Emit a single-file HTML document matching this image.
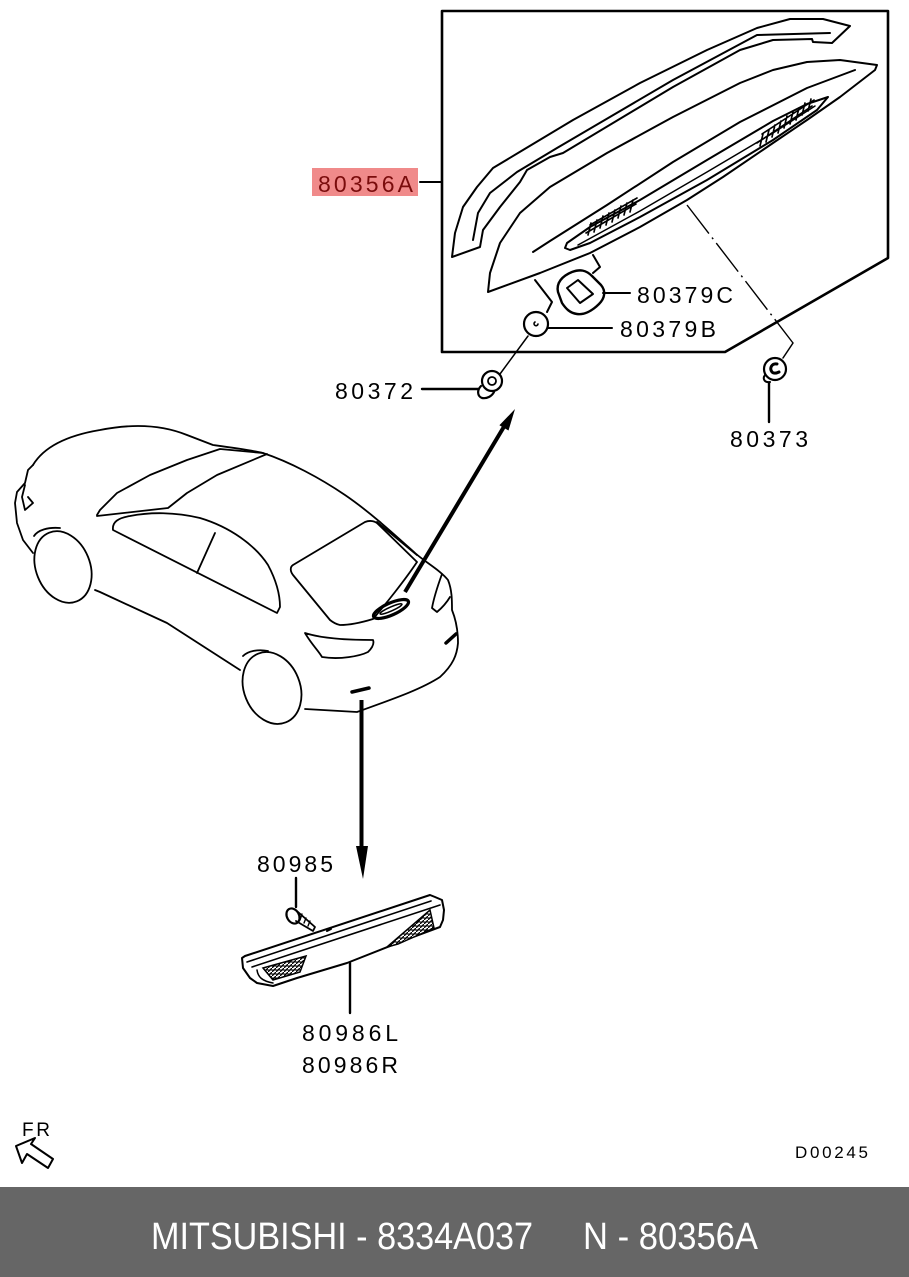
<!DOCTYPE html>
<html><head><meta charset="utf-8"><style>html,body{margin:0;padding:0;background:#fff}svg{display:block}</style></head>
<body>
<svg width="909" height="1277" viewBox="0 0 909 1277" xmlns="http://www.w3.org/2000/svg">
<defs>
<pattern id="h" width="4" height="4" patternUnits="userSpaceOnUse">
<rect width="4" height="4" fill="#fff"/>
<path d="M0,4 L4,0" stroke="#000" stroke-width="1.3"/>
<path d="M0,2 H4" stroke="#000" stroke-width="1"/>
</pattern>
</defs>
<rect width="909" height="1277" fill="#fff"/>

<g fill="none" stroke="#000" stroke-width="2" stroke-linejoin="round" stroke-linecap="round">
<!-- box -->
<path d="M442,11 H888 V258 L725,352 H442 Z" stroke-width="2.6"/>
<path d="M420,182 H442"/>

<!-- part 1 upper piece -->
<path d="M452,257 L455,233 L463,207 L477,187 L493,168 L523,150 L573,120 L640,83 L707,50 L757,28 L790,19 L823,19 L850,26 L832,43 L813,42 L812,39 L773,40 L740,50 L673,87 L563,153 L550,157 L527,170 L520,182 L500,207 L483,230 L480,247 Z"/>
<path d="M473,240 L478,213 L490,193 L517,172 L557,148 L673,80 L757,35 L830,33"/>

<!-- part 2 lower spoiler -->
<path d="M488,292 L490,273 L500,243 L520,213 L550,187 L607,153 L673,117 L740,83 L773,70 L807,62 L840,60 L877,65 L875,70 L840,97 L807,120 L773,143 L723,177 L687,200 L640,227 L590,253 L540,273 Z"/>
<path d="M533,252 L550,241 L607,205 L673,162 L740,122 L807,88 L855,70"/>
<!-- lens -->
<path d="M565,248 L567,243 L590,227 L640,200 L707,160 L773,121 L807,104 L828,97 L817,110 L773,140 L707,180 L640,217 L590,243 L570,250 Z"/>
<path d="M578,245 L640,211 L707,172 L773,133 L815,106" stroke-width="1.5"/>
<!-- hatches -->
<path d="M586,233 L636,204 M590,225 L637,198 M588,235 L591,223 M594,232 L597,220 M600,228 L603,216 M606,225 L609,213 M612,222 L615,210 M618,218 L621,206 M624,215 L627,203 M630,212 L633,200" stroke-width="1.6"/>
<path d="M757,143 L812,106 M762,134 L814,100 M760,146 L763,134 M766,142 L769,130 M772,137 L775,125 M778,133 L781,121 M784,128 L787,116 M790,124 L793,112 M796,120 L799,108 M802,115 L805,103 M808,111 L811,99" stroke-width="1.6"/>

<!-- brackets -->
<path d="M593,255 L600,267 L593,273"/>
<path d="M535,280 L552,302 L547,312"/>
<!-- 80379C -->
<path d="M558,292 C556,283 562,276 572,272 C580,269 586,270 592,276 L601,285 C606,291 605,298 599,304 C592,311 584,315 577,314 C570,313 566,309 562,303 Z" stroke-width="2.4"/>
<path d="M567,288 L578,280 L593,294 L580,303 Z" stroke-width="2"/>
<path d="M603,293 H630"/>
<!-- 80379B -->
<circle cx="536" cy="324" r="12" stroke-width="2.2"/>
<path d="M535,322 a2,2 0 1,0 3,2" stroke-width="1.6"/>
<path d="M548,328 H612"/>
<!-- line to 80372 -->
<path d="M528,336 L500,374" stroke-width="1.5"/>
<!-- 80372 clip -->
<circle cx="492" cy="381" r="10" stroke-width="2.2"/>
<circle cx="492" cy="381" r="4" stroke-width="1.8"/>
<path d="M481,386 C477,390 477,396 482,398 C487,399 492,396 494,392" stroke-width="2.2"/>
<path d="M422,389 H478" stroke-width="2.4"/>
<!-- dash dot -->
<path d="M687,205 L793,343" stroke-width="1.4" stroke-dasharray="36 5 2 5" stroke-linecap="butt"/>
<path d="M793,343 L783,358" stroke-width="1.5"/>
<!-- 80373 clip -->
<circle cx="775" cy="369" r="11" stroke-width="2.2"/>
<path d="M777,364 C772,363 769,368 772,372 C774,374 777,373 779,372" stroke-width="3"/>
<path d="M765,375 C762,379 765,383 770,382" stroke-width="2"/>
<path d="M769,383 V422" stroke-width="2.4"/>

<!-- arrow 1 -->
<path d="M405,592 L505,425" stroke-width="4" stroke-linecap="butt"/>
<!-- arrow 2 -->
<path d="M361.5,700 V850" stroke-width="4" stroke-linecap="butt"/>

<!-- car -->
<g stroke-width="1.8">
<path d="M33,465 C45,445 70,435 100,430 C130,424 160,424 187,435 L213,445 C235,448 250,450 263,453 C290,462 320,478 345,495 C370,512 395,535 415,553 C425,562 440,570 448,580 C452,590 452,600 452,610 C456,620 458,630 458,643 C457,655 453,665 440,677 C420,690 390,700 357,712 L305,709"/>
<path d="M33,465 L28,470 L25,483 L17,492 L15,503 L17,523 L23,540 L33,553"/>
<path d="M25,485 L22,497 L25,510 L33,503 L28,497"/>
<ellipse cx="63" cy="567" rx="27" ry="37" transform="rotate(-22 63 567)"/>
<path d="M34,536 C38,530 48,527 60,528"/>
<path d="M95,590 L100,592 L167,623 L240,670"/>
<ellipse cx="272" cy="688" rx="28" ry="37" transform="rotate(-22 272 688)"/>
<path d="M243,656 C248,651 258,649 268,651"/>
<path d="M97,515 L100,510 L117,493 L150,475 L187,460 L220,449 L263,453"/>
<path d="M97,516 L168,508 L187,493 L217,475 L267,454"/>
<path d="M113,530 C112,522 118,518 130,516 C150,512 175,512 200,518 C230,527 255,545 268,565 C276,580 280,595 280,607 L277,613 Z"/>
<path d="M215,533 L197,573"/>
<path d="M293,565 L365,522 C370,520 375,521 378,524 L417,562 C405,580 385,605 373,619 C360,623 350,625 340,625 C335,624 330,620 330,620 L293,575 C290,571 290,567 293,565 Z"/>
<path d="M377,522 L417,555"/>
<path d="M305,633 C320,638 345,640 373,640 C375,645 370,650 368,652 C360,656 340,660 322,657 C318,650 312,645 305,633 Z"/>
<path d="M442,574 C438,585 434,597 432,608 L437,612 C443,607 447,602 450,597"/>
</g>
<path d="M446,643 L456,634" stroke-width="3.5"/>
<path d="M352,692 L369,688" stroke-width="3.5"/>
<ellipse cx="391" cy="609" rx="19" ry="6" transform="rotate(-24 391 609)" stroke-width="3.2"/>
<ellipse cx="391" cy="609" rx="12" ry="2" transform="rotate(-24 391 609)" stroke-width="1.5"/>

<!-- lower lamp -->
<path d="M242,958 L245,956 L430,895 L435,897 L442,900 L444,910 L443,920 L440,927 L413,937 L347,963 L297,978 L273,986 L257,983 L250,978 L243,968 Z"/>
<path d="M247,962 L431,901 M252,967 L440,905" stroke-width="1.6"/>
<path d="M257,970 C258,977 262,981 273,983" stroke-width="1.5"/>
<path d="M327,931 L331,929"/>
<path d="M296,878 V907" stroke-width="2.4"/>
<path d="M350,963 V1013" stroke-width="2.4"/>
<!-- screw -->
<ellipse cx="293" cy="916" rx="6" ry="8" transform="rotate(-30 293 916)" stroke-width="2.2"/>
<path d="M298,912 L315,927 L313,931 L296,921" stroke-width="1.8"/>
<path d="M302,914 L300,920 M306,918 L304,923 M310,921 L308,926" stroke-width="1.4"/>
</g>

<!-- hatched regions lower lamp -->
<path d="M263,968 L306,956 L300,972 L273,980 Z" fill="url(#h)" stroke="#000" stroke-width="1.5"/>
<path d="M387,947 L430,910 L434,928 L398,944 Z" fill="url(#h)" stroke="#000" stroke-width="1.5"/>

<!-- arrowheads -->
<polygon points="515,409 508.5,430.5 499.4,425.3" fill="#000"/>
<polygon points="363,879 356,846 368,846" fill="#000"/>

<!-- FR arrow -->
<polygon points="16,1146 35,1138 31,1144 53,1159 48,1168 27,1154 22,1163" fill="#fff" stroke="#000" stroke-width="2" stroke-linejoin="round"/>

<!-- labels -->
<rect x="312" y="168" width="106" height="28" fill="#f08a8a"/>
<g font-family="'Liberation Sans', sans-serif" font-size="23" fill="#000">
<text x="318" y="192" textLength="95" lengthAdjust="spacing" fill="#7a0c0c">80356A</text>
<text x="637" y="303" textLength="96" lengthAdjust="spacing">80379C</text>
<text x="620" y="337" textLength="96" lengthAdjust="spacing">80379B</text>
<text x="335" y="399" textLength="78" lengthAdjust="spacing">80372</text>
<text x="730" y="447" textLength="78" lengthAdjust="spacing">80373</text>
<text x="257" y="872" textLength="76" lengthAdjust="spacing">80985</text>
<text x="302" y="1041" textLength="96" lengthAdjust="spacing">80986L</text>
<text x="302" y="1073" textLength="96" lengthAdjust="spacing">80986R</text>
<text x="795" y="1158" font-size="17" textLength="73" lengthAdjust="spacing">D00245</text>
<text x="22" y="1136" font-size="19" textLength="28" lengthAdjust="spacing">FR</text>
</g>

<!-- footer -->
<rect x="0" y="1187" width="909" height="90" fill="#666666"/>
<g font-family="'Liberation Sans', sans-serif" font-size="38" fill="#fff">
<text x="151" y="1249" textLength="382" lengthAdjust="spacingAndGlyphs">MITSUBISHI - 8334A037</text>
<text x="583" y="1249" textLength="175" lengthAdjust="spacingAndGlyphs">N - 80356A</text>
</g>
</svg>
</body></html>
